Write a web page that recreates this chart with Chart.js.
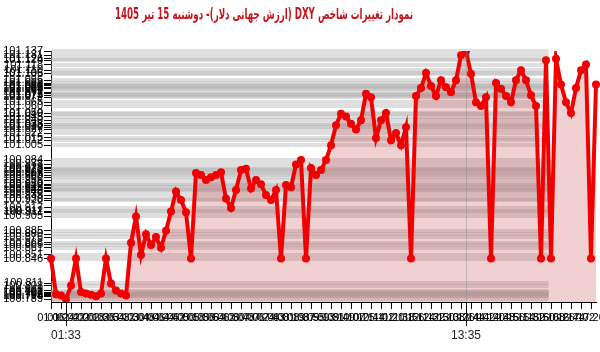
<!DOCTYPE html>
<html>
<head>
<meta charset="utf-8">
<script src="https://cdn.jsdelivr.net/npm/chart.js"></script>
<style>
  body { margin: 0; background: #fff; }
  #wrap { position: relative; width: 600px; height: 352px; }
  #title { position: absolute; top: 5px; left: 264px; transform-origin: 0 0;
           font: bold 15px "DejaVu Sans Condensed", "DejaVu Sans", sans-serif; color: #c4161c; white-space: nowrap; }
  canvas { position: absolute; left: 0; top: 0; }
</style>
</head>
<body>
<div id="wrap">
  <canvas id="dxyChart" width="600" height="352"></canvas>
  <div id="title" dir="rtl"></div>
</div>
<script>
const chartTitle = 'نمودار تغییرات شاخص DXY (ارزش جهانی دلار)-  دوشنبه  15 تیر 1405';

const timeLabels = [
  '01:06','01:15','01:24','01:33','01:42','01:51','02:00','02:09','02:18','02:27',
  '02:36','02:45','02:54','03:03','03:12','03:21','03:30','03:39','03:48','03:57',
  '04:06','04:15','04:24','04:33','04:42','04:51','05:00','05:09','05:18','05:27',
  '05:36','05:45','05:54','06:03','06:12','06:21','06:30','06:39','06:48','06:57',
  '07:06','07:15','07:24','07:34','07:43','07:52','08:01','08:10','08:19','08:28',
  '08:37','08:46','08:55','09:04','09:13','09:22','09:31','09:40','09:49','09:58',
  '10:07','10:16','10:25','10:35','10:44','10:53','11:02','11:11','11:20','11:29',
  '11:38','11:47','11:56','12:05','12:14','12:23','12:32','12:41','12:50','12:59',
  '13:08','13:17','13:26','13:35','13:44','13:53','14:02','14:11','14:20','14:29',
  '14:38','14:47','14:56','15:05','15:14','15:23','15:32','15:41','15:50','15:59',
  '16:08','16:17','16:26','16:35','16:44','16:53','17:02','17:11','17:20','17:29'
];

const dxyValues = [
  100.846, 100.796, 100.794, 100.789, 100.808, 100.846, 100.799, 100.797, 100.795, 100.793,
  100.797, 100.846, 100.811, 100.801, 100.797, 100.794, 100.868, 100.905, 100.851, 100.880,
  100.865, 100.876, 100.861, 100.885, 100.912, 100.940, 100.928, 100.911, 100.846, 100.966,
  100.963, 100.956, 100.960, 100.963, 100.967, 100.930, 100.917, 100.942, 100.970, 100.972,
  100.944, 100.956, 100.950, 100.935, 100.928, 100.942, 100.846, 100.949, 100.946, 100.978,
  100.984, 100.846, 100.973, 100.963, 100.970, 100.984, 101.005, 101.033, 101.049, 101.045,
  101.035, 101.027, 101.040, 101.077, 101.072, 101.015, 101.040, 101.050, 101.012, 101.022,
  101.005, 101.030, 100.846, 101.074, 101.085, 101.106, 101.088, 101.074, 101.096, 101.086,
  101.079, 101.096, 101.131, 101.137, 101.105, 101.065, 101.060, 101.072, 100.846, 101.092,
  101.084, 101.074, 101.065, 101.096, 101.110, 101.096, 101.075, 101.060, 100.846, 101.124,
  100.846, 101.126, 101.090, 101.065, 101.050, 101.085, 101.110, 101.118, 100.846, 101.090
];

// times shown on the second row under the axis
const markerTimes = ['01:33', '13:35'];

// title: centred near x=264, squeezed to the reference width
const titleEl = document.getElementById('title');
titleEl.textContent = chartTitle;
const tw = titleEl.offsetWidth;
titleEl.style.left = (264 - 149) + 'px';
titleEl.style.transform = 'scaleX(' + (298 / tw) + ')';

const markerIdx = markerTimes.map(t => timeLabels.indexOf(t));
const yTickValues = [...new Set(dxyValues)].sort((a, b) => a - b);
const tickFont = '"Liberation Sans", Arial, sans-serif';

// horizontal bands at every value, stopping short of the right edge
const valueGrid = {
  id: 'valueGrid',
  beforeDatasetsDraw(chart) {
    const { ctx, chartArea, scales } = chart;
    const right = scales.x.getPixelForValue(99.5);
    ctx.save();
    ctx.strokeStyle = 'rgba(175,175,175,0.4)';
    ctx.lineWidth = 4;
    scales.y.ticks.forEach(t => {
      const py = Math.round(scales.y.getPixelForValue(t.value));
      ctx.beginPath();
      ctx.moveTo(chartArea.left, py);
      ctx.lineTo(right, py);
      ctx.stroke();
    });
    ctx.restore();
  }
};

const markerLines = {
  id: 'markerLines',
  afterDraw(chart) {
    const { ctx, chartArea, scales } = chart;
    ctx.save();
    markerIdx.forEach((idx, n) => {
      const px = Math.round(scales.x.getPixelForValue(idx)) + 0.5;
      if (n > 0) {
        ctx.strokeStyle = 'rgba(140,140,140,0.45)';
        ctx.beginPath();
        ctx.moveTo(px, chartArea.top);
        ctx.lineTo(px, chartArea.bottom);
        ctx.stroke();
      }
      ctx.strokeStyle = '#111';
      ctx.beginPath();
      ctx.moveTo(px, chartArea.bottom);
      ctx.lineTo(px, chartArea.bottom + 24);
      ctx.stroke();
    });
    ctx.restore();
  }
};

new Chart(document.getElementById('dxyChart'), {
  type: 'line',
  data: {
    labels: timeLabels,
    datasets: [{
      data: dxyValues,
      borderColor: 'rgb(240,0,0)',
      backgroundColor: 'rgba(190,40,50,0.22)',
      pointBackgroundColor: 'rgb(240,0,0)',
      pointBorderWidth: 0,
      pointRadius: 4,
      borderWidth: 4,
      tension: 0,
      fill: 'start'
    }]
  },
  options: {
    responsive: false,
    animation: false,
    devicePixelRatio: 1,
    layout: { padding: { top: 51, right: 2, bottom: 4, left: 0 } },
    plugins: { legend: { display: false }, tooltip: { enabled: false }, title: { display: false } },
    scales: {
      x: {
        type: 'category',
        position: 'bottom',
        offset: false,
        border: { color: '#000' },
        grid: { drawOnChartArea: false, color: '#000', tickLength: 7 },
        ticks: {
          autoSkip: false, maxRotation: 0, padding: 2, color: '#000',
          font: { family: tickFont, size: 11 },
          callback: (v, i) => (i % 2 === 0 ? timeLabels[i] : null)
        },
        afterFit: s => { s.height = 22; s.paddingLeft = 0; s.paddingRight = 0; }
      },
      x2: {
        type: 'category',
        position: 'bottom',
        offset: false,
        border: { display: false },
        grid: { display: false, drawTicks: false },
        ticks: {
          autoSkip: false, maxRotation: 0, padding: 4, color: '#222',
          font: { family: tickFont, size: 12 },
          callback: (v, i) => (markerIdx.includes(i) ? timeLabels[i] : null)
        },
        afterFit: s => { s.height = 24; s.paddingLeft = 0; s.paddingRight = 0; }
      },
      y: {
        min: 100.785,
        max: 101.137,
        border: { color: '#000' },
        grid: { drawOnChartArea: false, color: '#000', tickLength: 7 },
        afterBuildTicks: s => { s.ticks = yTickValues.map(v => ({ value: v })); },
        ticks: {
          autoSkip: false, padding: 1, color: '#000',
          font: { family: tickFont, size: 11 },
          callback: v => Number(v).toFixed(3)
        },
        afterFit: s => { s.width = 51; s.paddingTop = 0; s.paddingBottom = 0; }
      }
    }
  },
  plugins: [valueGrid, markerLines]
});
</script>
</body>
</html>
